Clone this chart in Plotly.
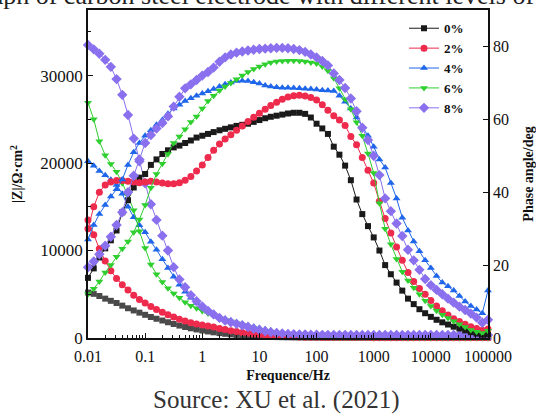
import plotly.graph_objects as go

# Frequency points (Hz), 10 per decade
freq = [0.01, 0.0126, 0.0158, 0.02, 0.0251, 0.0316, 0.0398, 0.0501, 0.0631, 0.0794,
        0.1, 0.126, 0.158, 0.2, 0.251, 0.316, 0.398, 0.501, 0.631, 0.794,
        1, 1.26, 1.58, 2, 2.51, 3.16, 3.98, 5.01, 6.31, 7.94,
        10, 12.6, 15.8, 20, 25.1, 31.6, 39.8, 50.1, 63.1, 79.4,
        100, 126, 158, 200, 251, 316, 398, 501, 631, 794,
        1000, 1259, 1585, 1995, 2512, 3162, 3981, 5012, 6310, 7943,
        10000, 12589, 15849, 19953, 25119, 31623, 39811, 50119, 63096, 79433,
        100000]

labels = ["0%", "2%", "4%", "6%", "8%"]

# |Z| (Ohm cm2)
z_0 = [5200, 5050, 4800, 4500, 4250, 4000, 3700, 3400, 3150, 2900,
       2650, 2400, 2200, 2000, 1800, 1600, 1420, 1260, 1110, 980,
       860, 750, 650, 560, 480, 410, 350, 300, 255, 215,
       180, 150, 125, 105, 90, 78, 68, 60, 54, 49,
       45, 42, 40, 38, 37, 36, 35, 34, 34, 33,
       33, 32, 32, 32, 31, 31, 31, 31, 30, 30,
       30, 30, 30, 30, 29, 29, 29, 29, 29, 29, 29]
z_2 = [13500, 11800, 10200, 8800, 7700, 6800, 6100, 5500, 4900, 4400,
       4000, 3600, 3250, 2950, 2650, 2400, 2150, 1950, 1750, 1600,
       1500, 1370, 1250, 1100, 960, 840, 730, 630, 540, 460,
       390, 330, 280, 230, 190, 160, 135, 115, 98, 85,
       75, 68, 62, 57, 53, 50, 48, 46, 44, 43,
       42, 41, 40, 40, 39, 39, 38, 38, 38, 37,
       37, 37, 37, 36, 36, 36, 36, 36, 36, 36, 36]
z_4 = [20200, 19700, 19100, 18600, 18100, 17500, 16500, 15000, 13800, 12900,
       12100, 11000, 10100, 9000, 8000, 7000, 6100, 5300, 4600, 4000,
       3400, 3000, 2700, 2400, 2200, 2000, 1800, 1600, 1450, 1300,
       1150, 1000, 850, 720, 600, 500, 400, 320, 260, 210,
       170, 140, 120, 100, 90, 80, 72, 66, 61, 57,
       54, 51, 49, 47, 46, 45, 44, 43, 42, 42,
       41, 41, 41, 40, 40, 40, 40, 40, 40, 40, 40]
z_6 = [26900, 25000, 22500, 20900, 19900, 19000, 17700, 16300, 14600, 12200,
       10300, 8400, 7300, 6400, 5700, 5100, 4600, 4100, 3700, 3400,
       3100, 2800, 2550, 2300, 2100, 1900, 1700, 1500, 1300, 1120,
       950, 800, 660, 540, 440, 350, 280, 220, 170, 135,
       110, 92, 80, 70, 63, 58, 54, 51, 49, 47,
       46, 45, 44, 43, 43, 42, 42, 42, 41, 41,
       41, 41, 40, 40, 40, 40, 40, 40, 40, 40, 40]
z_8 = [33500, 33000, 32500, 31800, 31000, 29600, 27800, 25500, 22800, 20200,
       17700, 15300, 13500, 11700, 10000, 8100, 6700, 5800, 4900, 4200,
       3600, 3100, 2700, 2300, 2000, 1800, 1620, 1450, 1250, 1050,
       920, 780, 660, 580, 520, 470, 435, 410, 392, 380,
       368, 362, 358, 355, 352, 350, 348, 347, 346, 345,
       344, 343, 342, 341, 340, 340, 339, 339, 338, 338,
       337, 337, 336, 336, 335, 335, 334, 334, 333, 333, 332]

# Phase angle (deg)
ph_0 = [16.5, 19.1, 22.1, 24.6, 26.8, 29.5, 34.5, 37.8, 41.3, 44.0,
        45.0, 47.5, 49.0, 50.5, 51.5, 52.3, 52.8, 53.5, 54.2, 55.0,
        55.5, 56.0, 56.5, 57.0, 57.4, 57.8, 58.2, 58.5, 58.8, 59.3,
        59.8, 60.3, 60.7, 61.0, 61.3, 61.6, 61.8, 61.8, 61.5, 60.5,
        58.8, 57.5, 56.0, 52.5, 50.3, 47.3, 43.3, 38.0, 34.0, 30.7,
        27.6, 24.0, 20.0, 17.5, 15.2, 13.0, 10.8, 9.3, 7.9, 6.8,
        5.8, 5.0, 4.3, 3.7, 3.1, 2.6, 2.1, 1.6, 1.2, 0.9, 1.0]
ph_2 = [30.0, 36.0, 40.0, 42.0, 42.8, 43.2, 43.2, 43.0, 42.8, 42.6,
        42.8, 43.0, 42.8, 42.5, 42.3, 42.3, 42.6, 43.3, 44.3, 45.8,
        47.5, 49.5, 51.5, 53.2, 54.6, 55.8, 57.0, 58.2, 59.4, 60.6,
        61.7, 62.8, 63.8, 64.7, 65.5, 66.1, 66.5, 66.6, 66.4, 66.0,
        65.3, 64.0, 62.5, 61.0, 59.8, 58.3, 55.3, 53.0, 49.5, 46.0,
        42.5, 37.5, 32.8, 28.8, 25.0, 21.3, 18.0, 15.5, 13.6, 12.0,
        10.3, 8.8, 7.5, 6.3, 5.3, 4.5, 3.8, 3.1, 2.6, 2.1, 2.5]
ph_4 = [27.0, 31.0, 34.0, 36.5, 38.8, 40.8, 43.5, 47.5, 51.0, 53.5,
        55.5, 57.0, 58.5, 59.8, 61.5, 63.0, 64.0, 65.0, 65.8, 66.5,
        67.1, 67.7, 68.3, 69.0, 69.6, 70.1, 70.5, 70.6, 70.5, 70.2,
        69.8, 69.3, 69.0, 68.8, 68.7, 68.7, 68.6, 68.5, 68.4, 68.3,
        68.2, 68.0, 67.9, 67.8, 66.5, 64.8, 63.0, 60.5, 58.0, 55.5,
        52.5, 49.0, 46.8, 42.5, 38.3, 33.0, 29.5, 26.5, 23.8, 21.3,
        19.2, 17.0, 15.2, 14.2, 13.0, 11.5, 10.0, 8.8, 7.8, 6.8, 13.0]
ph_6 = [12.0, 13.5, 15.5, 18.0, 20.0, 22.3, 24.5, 26.5, 29.0, 32.5,
        36.5, 41.2, 45.0, 47.8, 50.5, 53.5, 55.3, 57.3, 59.3, 60.8,
        63.0, 65.0, 66.5, 67.9, 69.0, 70.0, 71.0, 72.0, 73.0, 73.8,
        74.5, 75.1, 75.6, 75.9, 76.0, 76.1, 76.1, 76.0, 75.9, 75.6,
        75.3, 74.5, 73.3, 71.3, 68.5, 65.5, 62.8, 59.2, 55.5, 50.6,
        45.3, 37.0, 30.0, 25.7, 21.7, 18.2, 15.8, 13.8, 12.0, 10.2,
        8.8, 7.5, 6.4, 5.5, 4.6, 3.8, 3.0, 2.2, 1.7, 1.4, 2.0]
ph_8 = [19.4, 21.0, 23.0, 25.3, 27.8, 31.0, 34.5, 40.0, 44.5, 49.0,
        53.5, 55.7, 57.5, 59.0, 60.8, 63.5, 66.2, 68.5, 69.6, 70.8,
        72.0, 73.0, 74.2, 75.8, 77.0, 77.8, 78.3, 78.6, 78.9, 79.1,
        79.3, 79.4, 79.5, 79.6, 79.6, 79.5, 79.3, 79.0, 78.5, 77.8,
        77.0, 76.0, 74.8, 72.6, 70.8, 68.6, 65.7, 62.2, 57.7, 54.3,
        50.0, 44.7, 38.3, 34.8, 31.4, 28.0, 24.2, 21.3, 18.7, 16.2,
        14.5, 13.2, 12.0, 10.8, 9.7, 8.6, 7.7, 6.7, 5.6, 4.2, 5.0]

x_tickvals = [0.01, 0.1, 1, 10, 100, 1000, 10000, 100000]
x_ticktext = ["0.01", "0.1", "1", "10", "100", "1000", "10000", "100000"]
y_tickvals = [0, 10000, 20000, 30000]
y_ticktext = ["0", "10000", "20000", "30000"]
y2_tickvals = [0, 20, 40, 60, 80]
y2_ticktext = ["0", "20", "40", "60", "80"]

colors = ["#1a1a1a", "#ee2a4d", "#1f66ea", "#2ecf2e", "#8a70ee"]
zcolors = ["#4a4a4a", "#ee2a4d", "#1f66ea", "#2ecf2e", "#8a70ee"]
symbols = ["square", "circle", "triangle-up", "triangle-down", "diamond"]
sizes = [6, 7, 7, 7, 8]

zs = [z_0, z_2, z_4, z_6, z_8]
phs = [ph_0, ph_2, ph_4, ph_6, ph_8]

FONT = "Liberation Serif"

fig = go.Figure()
for i in range(5):
    fig.add_trace(go.Scatter(
        x=freq, y=zs[i], mode="lines+markers", name="<b>" + labels[i] + "</b>",
        showlegend=False, legendgroup=labels[i],
        line=dict(color=zcolors[i], width=1),
        marker=dict(symbol=symbols[i], size=sizes[i], color=zcolors[i]),
        cliponaxis=False, yaxis="y"))
for i in range(5):
    fig.add_trace(go.Scatter(
        x=freq, y=phs[i], mode="lines+markers", name="<b>" + labels[i] + "</b>",
        showlegend=True, legendgroup=labels[i],
        line=dict(color=colors[i], width=1),
        marker=dict(symbol=symbols[i], size=sizes[i], color=colors[i]),
        cliponaxis=False, yaxis="y2"))

minor_x = []
for d in [0.01, 0.1, 1, 10, 100, 1000, 10000]:
    for m in range(2, 10):
        minor_x.append(d * m)

fig.update_layout(
    width=536, height=417,
    margin=dict(l=88, r=48, t=10, b=79),
    paper_bgcolor="white", plot_bgcolor="white",
    font=dict(family=FONT, size=16, color="#111"),
    xaxis=dict(
        type="log", range=[-2, 5], automargin=False,
        tickvals=x_tickvals, ticktext=x_ticktext,
        ticks="inside", ticklen=5, tickwidth=1, tickcolor="#111",
        ticklabelstandoff=3,
        minor=dict(tickvals=minor_x, ticks="inside", ticklen=3, tickcolor="#111"),
        showline=True, linecolor="#111", linewidth=1.5, mirror=True,
        showgrid=False, zeroline=False,
        tickfont=dict(family=FONT, size=16),
        title=dict(text="<b>Frequence/Hz</b>", font=dict(family=FONT, size=14), standoff=6),
    ),
    yaxis=dict(
        range=[0, 37500], automargin=False,
        tickvals=y_tickvals, ticktext=y_ticktext,
        ticks="inside", ticklen=5, tickwidth=1, tickcolor="#111",
        minor=dict(dtick=5000, ticks="inside", ticklen=3, tickcolor="#111"),
        showline=True, linecolor="#111", linewidth=1.5,
        showgrid=False, zeroline=False,
        tickfont=dict(family=FONT, size=17),
        title=dict(text="<b>|Z|/Ω·cm<sup>2</sup></b>", font=dict(family=FONT, size=14), standoff=14),
    ),
    yaxis2=dict(
        range=[0, 90], overlaying="y", side="right", automargin=False,
        tickvals=y2_tickvals, ticktext=y2_ticktext,
        ticks="inside", ticklen=5, tickwidth=1, tickcolor="#111",
        showline=True, linecolor="#111", linewidth=1.5,
        showgrid=False, zeroline=False,
        tickfont=dict(family=FONT, size=16),
        title=dict(text="<b>Phase angle/deg</b>", font=dict(family=FONT, size=14), standoff=18),
    ),
    legend=dict(
        x=0.79, y=0.99, xanchor="left", yanchor="top",
        bgcolor="rgba(0,0,0,0)", borderwidth=0,
        font=dict(family=FONT, size=13, color="#111"),
        itemwidth=30, tracegroupgap=0,
    ),
    annotations=[
        dict(text="Source: XU et al. (2021)", xref="paper", yref="paper",
             x=0.47, y=-0.189, xanchor="center", yanchor="middle", showarrow=False,
             font=dict(family=FONT, size=25, color="#333")),
        dict(text="graph of carbon steel electrode with different levels of", xref="paper", yref="paper",
             x=-0.30, y=1.043, xanchor="left", yanchor="middle", showarrow=False,
             font=dict(family=FONT, size=26, color="#222")),
    ],
)

fig.write_html("out.html")
